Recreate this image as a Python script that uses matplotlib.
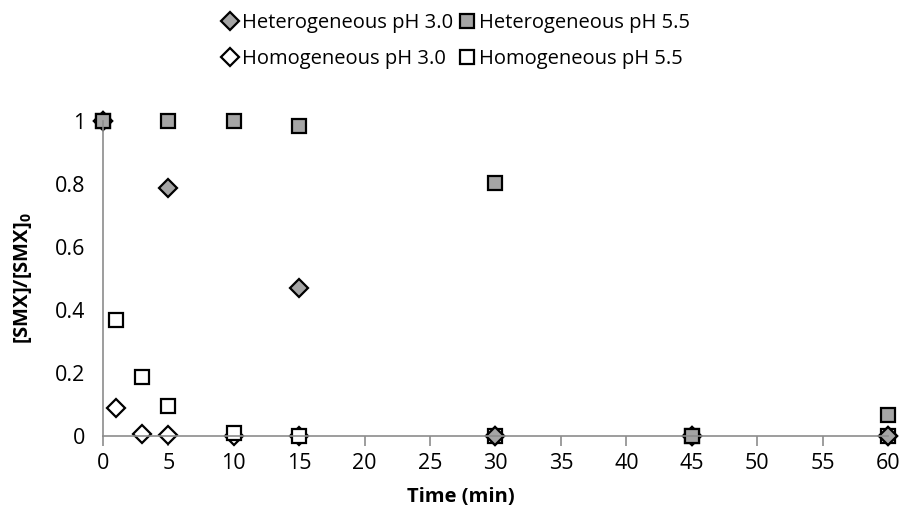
import matplotlib
matplotlib.use("Agg")
import matplotlib.pyplot as plt

plt.rcParams["font.family"] = ["Open Sans", "DejaVu Sans"]
plt.rcParams["mathtext.fontset"] = "custom"
plt.rcParams["mathtext.bf"] = "Open Sans:bold"
plt.rcParams["mathtext.rm"] = "Open Sans"

# data
hom_ph3_t = [0, 1, 3, 5, 10, 15, 30, 45, 60]
hom_ph3_y = [1, 0.088, 0.008, 0.004, 0, 0, 0, 0, 0]
hom_ph55_t = [0, 1, 3, 5, 10, 15, 30, 45, 60]
hom_ph55_y = [1, 0.368, 0.188, 0.095, 0.01, 0, 0, 0, 0]
het_ph3_t = [0, 5, 15, 30, 45, 60]
het_ph3_y = [1, 0.786, 0.471, 0, 0, 0]
het_ph55_t = [0, 5, 10, 15, 30, 45, 60]
het_ph55_y = [1, 1, 1, 0.982, 0.802, 0, 0.067]

x_ticks = list(range(0, 61, 5))
y_ticks = [0, 0.2, 0.4, 0.6, 0.8, 1]

gray = "#a5a5a5"
axis_gray = "#8c8c8c"

fig = plt.figure(figsize=(9.05, 5.23), dpi=100)
ax = fig.add_axes([0.1138, 0.166, 0.8674, 0.603])

common = dict(linestyle="none", markeredgecolor="black", markeredgewidth=1.6, clip_on=False)
l_hom3, = ax.plot(hom_ph3_t, hom_ph3_y, marker="D", markersize=9, markerfacecolor="white",
                  label="Homogeneous pH 3.0", **common)
l_hom55, = ax.plot(hom_ph55_t, hom_ph55_y, marker="s", markersize=10, markerfacecolor="white",
                   label="Homogeneous pH 5.5", **common)
l_het3, = ax.plot(het_ph3_t, het_ph3_y, marker="D", markersize=9, markerfacecolor=gray,
                  label="Heterogeneous pH 3.0", **common)
l_het55, = ax.plot(het_ph55_t, het_ph55_y, marker="s", markersize=10, markerfacecolor=gray,
                   label="Heterogeneous pH 5.5", **common)

ax.set_xlim(0, 60)
ax.set_ylim(0, 1)
ax.set_xticks(x_ticks)
ax.set_yticks(y_ticks)
ax.set_yticklabels(["0", "0.2", "0.4", "0.6", "0.8", "1"])
ax.tick_params(axis="x", direction="out", length=7, width=1.2, color=axis_gray,
               labelsize=15.5, pad=5)
ax.tick_params(axis="y", length=0, labelsize=15.5, pad=13)

for side in ["top", "right"]:
    ax.spines[side].set_visible(False)
for side in ["left", "bottom"]:
    ax.spines[side].set_color(axis_gray)
    ax.spines[side].set_linewidth(1.2)

ax.set_xlabel("Time (min)", fontsize=14.5, fontweight="bold")
ax.xaxis.set_label_coords(0.456, -0.162)
ax.set_ylabel("[SMX]/[SMX]$_\\mathbf{0}$", fontsize=14.5, fontweight="bold")
ax.yaxis.set_label_coords(-0.088, 0.5)

fig.legend(handles=[l_het3, l_hom3, l_het55, l_hom55], ncol=2, loc="upper center",
           bbox_to_anchor=(0.505, 1.01), frameon=False, fontsize=14.5,
           handlelength=0.6, handletextpad=0.3, columnspacing=0.4, labelspacing=0.8)

fig.savefig("out.png", dpi=100)
plt.close(fig)
